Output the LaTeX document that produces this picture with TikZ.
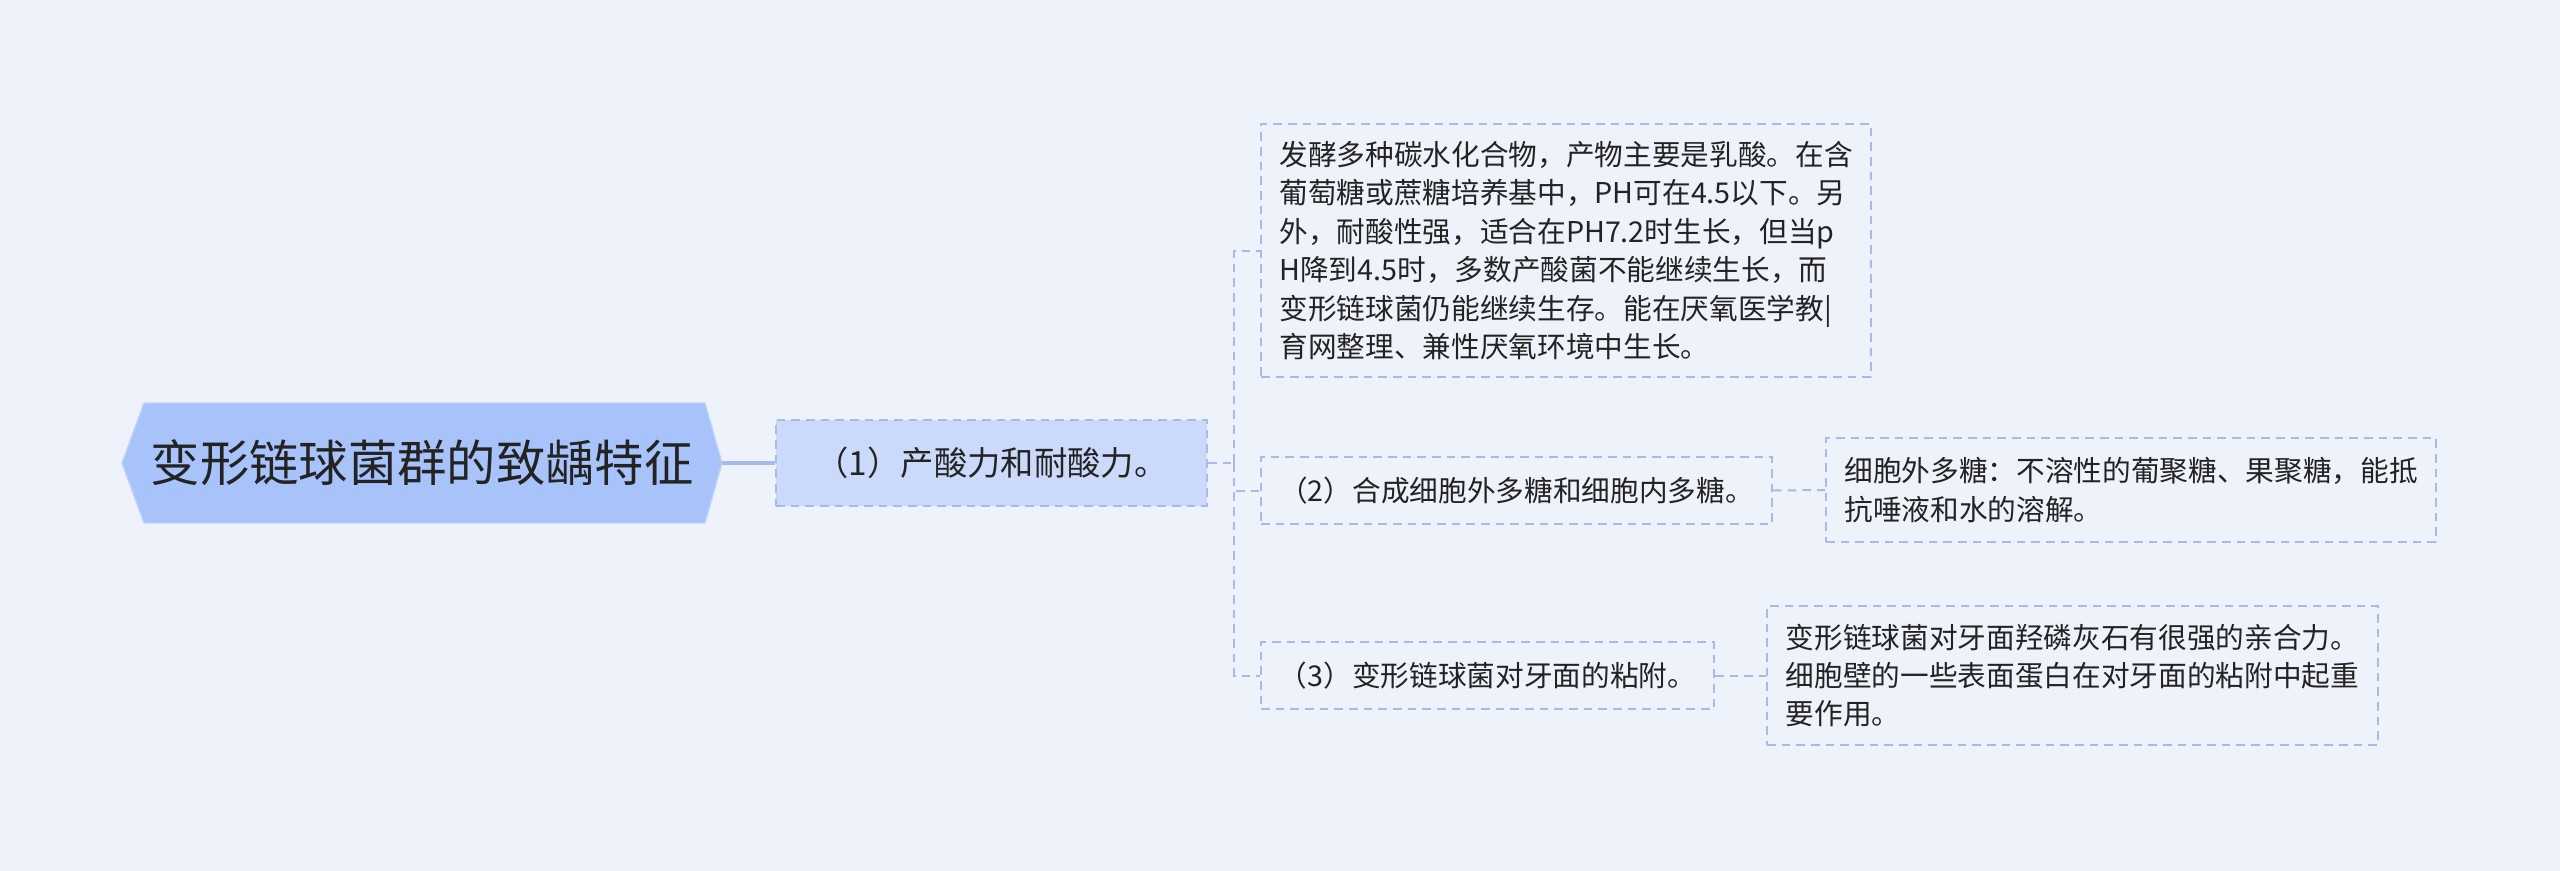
\documentclass[tikz,border=0pt]{standalone}
\usepackage{fontspec}
\setmainfont{Noto Sans CJK SC}
\definecolor{bg}{RGB}{238,243,251}
\definecolor{rootfill}{RGB}{168,194,250}
\definecolor{rootedge}{RGB}{190,210,252}
\definecolor{lvfill}{RGB}{203,218,250}
\definecolor{edge}{RGB}{168,185,235}
\definecolor{txt}{RGB}{35,35,35}
\tikzset{
  dbox/.style={draw=edge, line width=1.5pt, dash pattern=on 6.5pt off 4.5pt, inner sep=0pt, align=left, text=txt, font=\fontsize{21.5}{28.8}\selectfont},
  conn/.style={draw=edge, line width=1.5pt, dash pattern=on 6.5pt off 4.5pt},
}
\begin{document}
\begin{tikzpicture}[x=0.75pt,y=-0.75pt]
\fill[bg] (0,0) rectangle (2560,871);
\useasboundingbox (0,0) rectangle (2560,871);
% root hexagon
\filldraw[fill=rootfill, draw=rootedge, line width=1pt] (144,403) -- (705,403) -- (722,463) -- (705,523) -- (144,523) -- (122,463) -- cycle;
\node (root) at (422,463) [text=txt, font=\fontsize{37}{40}\selectfont, inner sep=0pt] {变形链球菌群的致龋特征};
\coordinate (roottip) at (722,463);
% level 1
\node (n1) at (991.5,463) [dbox, fill=lvfill, minimum width=323.25pt, minimum height=64.5pt, font=\fontsize{25}{28}\selectfont] {（1）产酸力和耐酸力。};
\draw[draw=edge, line width=3pt] (roottip) -- (n1.west);
% level 2
\node (a) at (1566,250.5) [dbox, minimum width=457.5pt, minimum height=189.75pt] {发酵多种碳水化合物，产物主要是乳酸。在含\\葡萄糖或蔗糖培养基中，PH可在4.5以下。另\\外，耐酸性强，适合在PH7.2时生长，但当p\\H降到4.5时，多数产酸菌不能继续生长，而\\变形链球菌仍能继续生存。能在厌氧医学教|\\育网整理、兼性厌氧环境中生长。};
\node (b) at (1516.5,490.5) [dbox, minimum width=383.25pt, minimum height=50.25pt] {（2）合成细胞外多糖和细胞内多糖。};
\node (c) at (1487.5,675.5) [dbox, minimum width=339.75pt, minimum height=50.25pt] {（3）变形链球菌对牙面的粘附。};
% level 3
\node (gb) at (2131,490) [dbox, minimum width=457.5pt, minimum height=78pt] {细胞外多糖：不溶性的葡聚糖、果聚糖，能抵\\抗唾液和水的溶解。};
\node (gc) at (2072.5,675.5) [dbox, minimum width=458.25pt, minimum height=104.25pt] {变形链球菌对牙面羟磷灰石有很强的亲合力。\\细胞壁的一些表面蛋白在对牙面的粘附中起重\\要作用。};
% connectors
\coordinate (trunk) at (1234,463);
\draw[conn] (n1.east) -- (trunk);
\draw[conn] (trunk) |- (a.west);
\draw[conn] (trunk) |- (b.west);
\draw[conn] (trunk) |- (c.west);
\draw[conn] (b.east) -- (gb.west);
\draw[conn] (c.east) -- (gc.west);
\end{tikzpicture}
\end{document}
